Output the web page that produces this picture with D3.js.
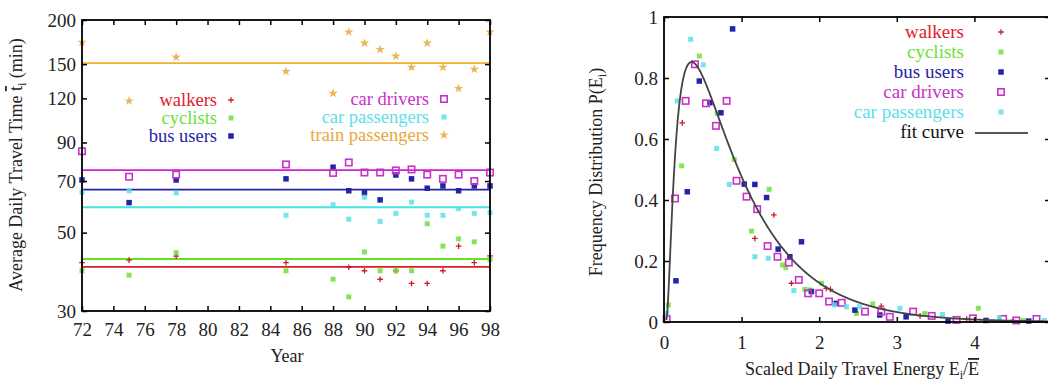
<!DOCTYPE html>
<html>
<head>
<meta charset="utf-8">
<script src="https://cdnjs.cloudflare.com/ajax/libs/d3/7.8.5/d3.min.js"></script>
<style>
  body { margin: 0; background: #fff; }
  svg text { font-family: "Liberation Serif", "Times New Roman", serif; }
</style>
</head>
<body>
<svg id="chart" width="1048" height="382"></svg>
<script>
// ---- left panel: average daily travel time per year ----
var years = [72, 75, 78, 85, 88, 89, 90, 91, 92, 93, 94, 95, 96, 97, 98];
var walkers   = [41.1, 41.8, 42.9, 41.1, null, 39.9, 39.0, 36.9, 39.0, 35.9, 35.9, 39.0, 45.8, 41.1, 43.0];
var cyclists  = [39.0, 37.9, 43.9, 39.0, 36.9, 32.9, 44.1, 39.0, 39.0, 39.0, 53.0, 45.8, 48.0, 47.1, 42.0];
var busUsers  = [70.5, 60.8, 70.5, 71.0, 76.6, 65.7, 64.8, 61.9, 72.8, 71.0, 66.8, 67.8, 65.7, 67.8, 67.8];
var carDrivers = [85.0, 72.0, 73.0, 78.0, 73.8, 79.0, 74.0, 74.0, 75.0, 75.5, 73.0, 71.0, 73.0, 70.0, 74.0];
var carPassengers = [65.0, 65.7, 64.8, 56.0, 60.0, 54.6, 63.0, 53.8, 56.7, 61.0, 56.0, 56.0, 58.5, 56.7, 57.0];
var trainPassengers = [173, 118, 157, 143, 124, 185, 172, 165, 158, 147, 172, 147, 128, 145, 185];
// mean levels drawn as horizontal lines
var meanNames  = ["walkers", "cyclists", "bus users", "car drivers", "car passengers", "train passengers"];
var meanValues = [40.0, 42.1, 66.2, 75.2, 59.0, 151];
var leftYTicks = [30, 50, 70, 90, 120, 150, 200];

// ---- right panel: scaled daily travel energy distribution ----
var eWalkers = [[0.236,0.653],[1.171,0.274],[1.416,0.351],[1.643,0.127],[2.09,0.11],[2.145,0.107],[2.80,0.052],[3.3,0.02],[3.9,0.01],[4.5,0.005]];
var eCyclists = [[0.056,0.056],[0.228,0.512],[0.455,0.872],[0.686,0.684],[0.905,0.533],[1.128,0.298],[1.355,0.435],[1.528,0.187],[1.57,0.179],[1.815,0.107],[1.88,0.105],[2.03,0.127],[2.48,0.028],[2.69,0.059],[3.36,0.028],[4.05,0.045],[4.63,0.005]];
var eBus = [[0.154,0.135],[0.30,0.427],[0.455,0.79],[0.592,0.719],[0.734,0.686],[0.884,0.961],[1.034,0.452],[1.171,0.451],[1.322,0.408],[1.471,0.239],[1.622,0.214],[1.772,0.263],[1.9,0.1],[2.22,0.061],[2.46,0.039],[2.78,0.023],[3.12,0.017],[3.66,0.003],[4.15,0.005],[4.7,0.003]];
var eCarDrivers = [[0.034,0.01],[0.142,0.405],[0.279,0.725],[0.399,0.845],[0.541,0.717],[0.669,0.643],[0.807,0.725],[0.935,0.463],[1.064,0.411],[1.201,0.37],[1.335,0.249],[1.463,0.214],[1.609,0.195],[1.737,0.138],[1.857,0.094],[2.0,0.094],[2.127,0.067],[2.29,0.063],[2.59,0.034],[2.80,0.034],[2.91,0.017],[3.21,0.034],[3.45,0.02],[3.77,0.007],[3.98,0.012],[4.37,0.01],[4.54,0.005],[4.8,0.01]];
var eCarPassengers = [[0.034,0.028],[0.171,0.725],[0.343,0.927],[0.506,0.843],[0.678,0.569],[0.841,0.451],[1.171,0.214],[1.343,0.209],[1.673,0.103],[2.2,0.056],[2.35,0.05],[2.52,0.05],[3.04,0.045],[3.59,0.025],[4.32,0.014],[4.9,0.005]];
// fit curve P(E) = N exp(-a/E - b E)
var fitN = 2.307, fitA = 0.177, fitB = 1.4;
var rightXTicks = [0, 1, 2, 3, 4, 5];
var rightXLabels = [0, 1, 2, 3, 4];
var rightYTicks = [0, 0.2, 0.4, 0.6, 0.8, 1];

var colors = {
  "walkers": "#e0202c",
  "cyclists": "#6ee03c",
  "bus users": "#2424a8",
  "car drivers": "#c832c8",
  "car passengers": "#5ce0e8",
  "train passengers": "#e8a83c"
};
var lineColors = {
  "walkers": "#d42020",
  "cyclists": "#66e022",
  "bus users": "#2020b4",
  "car drivers": "#d420d4",
  "car passengers": "#44e4e4",
  "train passengers": "#f0b030"
};

var svg = d3.select("#chart");

// marker drawing, one style per series
function marker(sel, name, x, y) {
  var c = colors[name];
  if (name == "walkers") {
    sel.append("path").attr("d", d3.symbol(d3.symbolPlus, 12)())
      .attr("transform", "translate(" + x + "," + y + ")")
      .attr("fill", "none").attr("stroke", "#cc1c24").attr("stroke-width", 1.3);
  } else if (name == "car drivers") {
    sel.append("rect").attr("x", x - 3.2).attr("y", y - 3.2).attr("width", 6.4).attr("height", 6.4)
      .attr("fill", "none").attr("stroke", c).attr("stroke-width", 1.6);
  } else if (name == "train passengers") {
    sel.append("path").attr("d", d3.symbol(d3.symbolStar, 28)()).attr("transform", "translate(" + x + "," + y + ")").attr("fill", c).attr("opacity", 0.85);
  } else {
    var s = name == "bus users" ? 5.5 : 5;
    sel.append("rect").attr("x", x - s / 2).attr("y", y - s / 2).attr("width", s).attr("height", s)
      .attr("fill", c).attr("opacity", name == "bus users" ? 1 : 0.85);
  }
}

// ================= LEFT PANEL =================
var xL = d3.scaleLinear().domain([72, 98]).range([82, 490]);
var yL = d3.scaleLog().domain([30, 200]).range([311, 20]);

var left = svg.append("g");

// mean lines
meanNames.forEach(function(n, i) {
  left.append("line")
    .attr("x1", xL(72)).attr("x2", xL(98))
    .attr("y1", yL(meanValues[i])).attr("y2", yL(meanValues[i]))
    .attr("stroke", lineColors[n]).attr("stroke-width", 1.8);
});

var leftSeries = [
  ["walkers", walkers], ["cyclists", cyclists], ["bus users", busUsers],
  ["car drivers", carDrivers], ["car passengers", carPassengers], ["train passengers", trainPassengers]
];
leftSeries.forEach(function(s) {
  s[1].forEach(function(v, i) {
    if (v == null) return;
    marker(left, s[0], xL(years[i]), yL(v));
  });
});

// axes
var xTicksL = d3.range(72, 99, 2);
left.append("g").attr("transform", "translate(0,311)")
  .call(d3.axisBottom(xL).tickValues(xTicksL).tickSize(-5).tickPadding(12).tickFormat(d3.format("d")));
left.append("g").attr("transform", "translate(0,20)")
  .call(d3.axisTop(xL).tickValues(xTicksL).tickSize(-5).tickFormat(""));
left.append("g").attr("transform", "translate(82,0)")
  .call(d3.axisLeft(yL).tickValues(leftYTicks).tickSize(-5).tickPadding(6).tickFormat(d3.format("d")));
left.append("g").attr("transform", "translate(490,0)")
  .call(d3.axisRight(yL).tickValues(leftYTicks).tickSize(-5).tickFormat(""));

left.append("rect").attr("x", 82).attr("y", 20).attr("width", 408).attr("height", 291)
  .attr("fill", "none").attr("stroke", "#000").attr("stroke-width", 1.8);

// legends (left panel)
var legL1 = ["walkers", "cyclists", "bus users"];
var legL2 = ["car drivers", "car passengers", "train passengers"];
var legRowsL = [100, 118, 136];
legL1.forEach(function(n, i) {
  left.append("text").attr("x", 217).attr("y", legRowsL[i]).attr("dy", "0.32em")
    .attr("text-anchor", "end").attr("font-size", 18.5).attr("fill", colors[n]).text(n);
  marker(left, n, 231, legRowsL[i]);
});
legL2.forEach(function(n, i) {
  left.append("text").attr("x", 429).attr("y", legRowsL[i] - 1).attr("dy", "0.32em")
    .attr("text-anchor", "end").attr("font-size", 18.5).attr("fill", colors[n]).text(n);
  marker(left, n, 444, legRowsL[i] - 1);
});

// axis titles
var ytl = left.append("text").attr("transform", "translate(22,165) rotate(-90)")
  .attr("text-anchor", "middle").attr("font-size", 18).attr("fill", "#222");
ytl.append("tspan").text("Average Daily Travel Time ");
ytl.append("tspan").style("text-decoration", "overline").text("t");
ytl.append("tspan").attr("font-size", 12).attr("dy", 4).text("i");
ytl.append("tspan").attr("dy", -4).text(" (min)");

left.append("text").attr("x", 287).attr("y", 362).attr("text-anchor", "middle")
  .attr("font-size", 18).attr("fill", "#222").text("Year");

// ================= RIGHT PANEL =================
var xR = d3.scaleLinear().domain([0, 5]).range([664, 1052]);
var yR = d3.scaleLinear().domain([0, 1]).range([322, 17]);
var right = svg.append("g");

var rightSeries = [
  ["walkers", eWalkers], ["cyclists", eCyclists], ["bus users", eBus],
  ["car drivers", eCarDrivers], ["car passengers", eCarPassengers]
];
rightSeries.forEach(function(s) {
  s[1].forEach(function(p) { marker(right, s[0], xR(p[0]), yR(p[1])); });
});

// fit curve
var fitPts = d3.range(0.03, 5.0, 0.005).map(function(e) {
  return [e, fitN * Math.exp(-fitA / e - fitB * e)];
}).filter(function(p) { return p[1] <= 1; });
right.append("path").datum(fitPts)
  .attr("d", d3.line().x(function(d) { return xR(d[0]); }).y(function(d) { return yR(d[1]); }))
  .attr("fill", "none").attr("stroke", "#444").attr("stroke-width", 1.8);

right.append("g").attr("transform", "translate(0,322)")
  .call(d3.axisBottom(xR).tickValues(rightXLabels).tickSize(-5).tickPadding(14).tickFormat(d3.format("d")));
right.append("g").attr("transform", "translate(0,17)")
  .call(d3.axisTop(xR).tickValues(rightXTicks).tickSize(-5).tickFormat(""));
right.append("g").attr("transform", "translate(664,0)")
  .call(d3.axisLeft(yR).tickValues(rightYTicks).tickSize(-5).tickPadding(6).tickFormat(function(d) { return d == 0 || d == 1 ? d3.format("d")(d) : d3.format(".1f")(d); }));
right.append("g").attr("transform", "translate(1050,0)")
  .call(d3.axisRight(yR).tickValues(rightYTicks).tickSize(-5).tickFormat(""));

right.append("rect").attr("x", 664).attr("y", 17).attr("width", 386).attr("height", 305)
  .attr("fill", "none").attr("stroke", "#000").attr("stroke-width", 1.8);

// legend (right panel)
var legR = ["walkers", "cyclists", "bus users", "car drivers", "car passengers"];
legR.forEach(function(n, i) {
  var yy = 32 + i * 20;
  right.append("text").attr("x", 964).attr("y", yy).attr("dy", "0.32em")
    .attr("text-anchor", "end").attr("font-size", 19).attr("fill", colors[n]).text(n);
  marker(right, n, 1001, yy);
});
right.append("text").attr("x", 964).attr("y", 132).attr("dy", "0.32em")
  .attr("text-anchor", "end").attr("font-size", 19).attr("fill", "#111").text("fit curve");
right.append("line").attr("x1", 975).attr("x2", 1028).attr("y1", 133).attr("y2", 133)
  .attr("stroke", "#555").attr("stroke-width", 2);

var ytr = right.append("text").attr("transform", "translate(602,172) rotate(-90)")
  .attr("text-anchor", "middle").attr("font-size", 18).attr("fill", "#222");
ytr.append("tspan").text("Frequency Distribution P(E");
ytr.append("tspan").attr("font-size", 12).attr("dy", 4).text("i");
ytr.append("tspan").attr("dy", -4).text(")");

var xtr = right.append("text").attr("x", 862).attr("y", 375)
  .attr("text-anchor", "middle").attr("font-size", 18).attr("fill", "#222");
xtr.append("tspan").text("Scaled Daily Travel Energy E");
xtr.append("tspan").attr("font-size", 12).attr("dy", 4).text("i");
xtr.append("tspan").attr("dy", -4).text("/");
xtr.append("tspan").style("text-decoration", "overline").text("E");

// tick label styling
svg.selectAll(".tick text").attr("font-size", 19).attr("fill", "#222")
  .style("font-family", "'Liberation Serif', serif");
svg.selectAll(".domain").remove();
svg.selectAll(".tick line").attr("stroke", "#000").attr("stroke-width", 1.5);
</script>
</body>
</html>
